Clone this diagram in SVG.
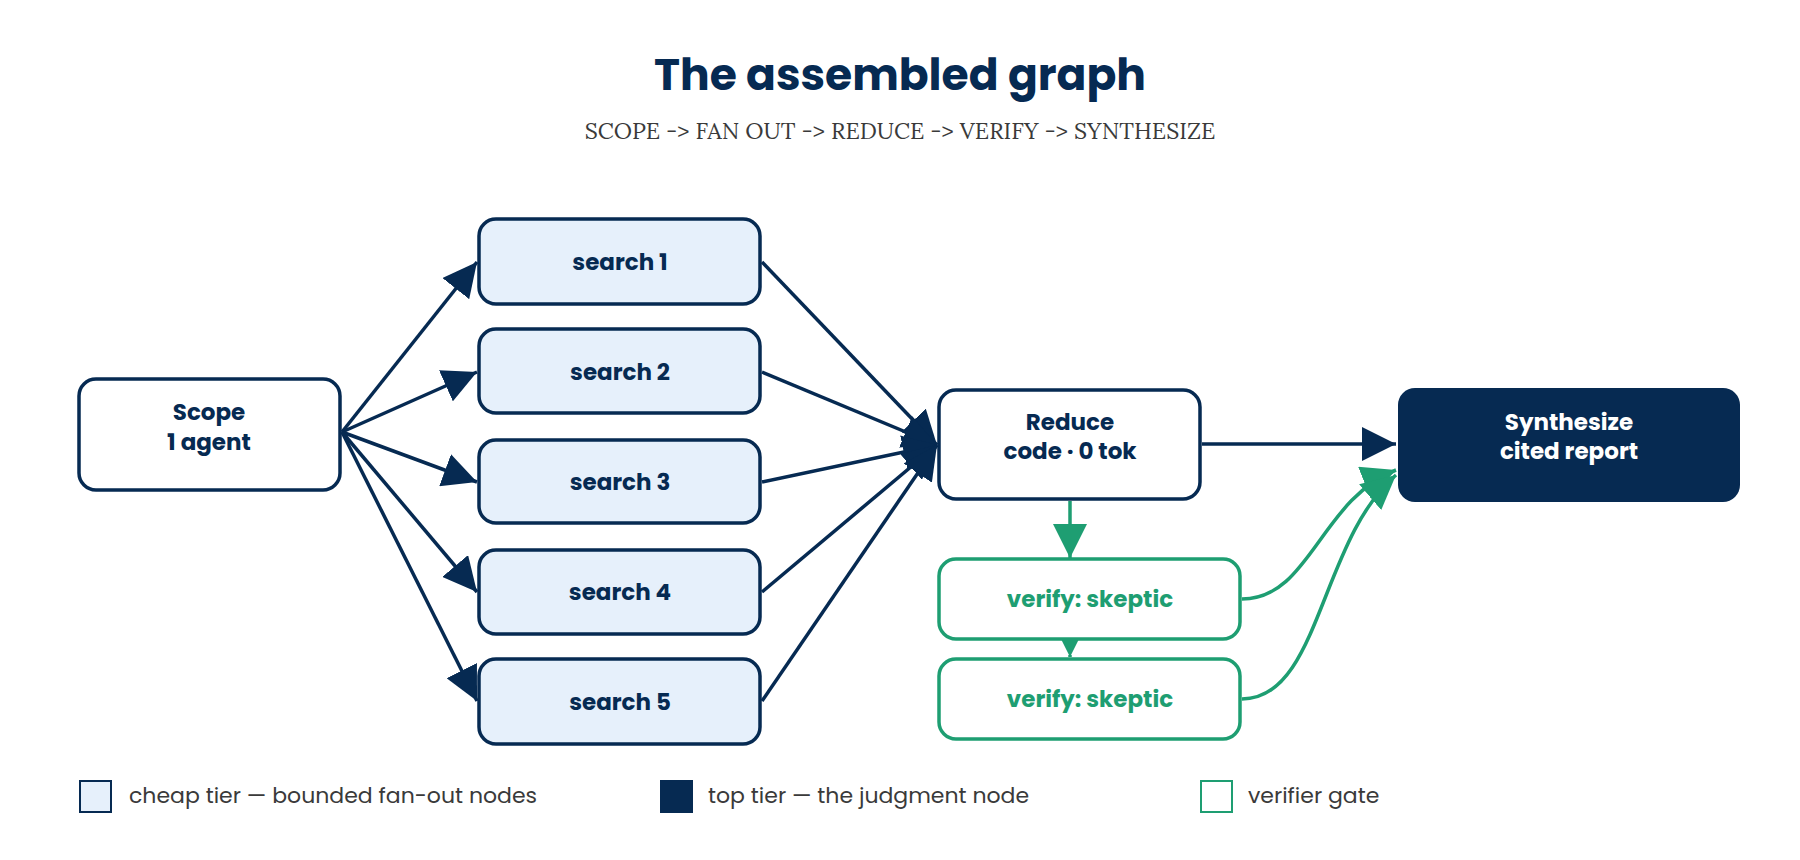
<svg xmlns="http://www.w3.org/2000/svg" width="1800" height="860" viewBox="0 0 1800 860">
<style>
.t{font-family:Poppins,"Inter","Noto Sans",sans-serif;font-weight:700;text-anchor:middle;font-size:23px}
.n{fill:#fff;stroke:#062a52;stroke-width:3.5}
.c{fill:#e6f0fb;stroke:#062a52;stroke-width:3.5}
.g{fill:#fff;stroke:#1e9e72;stroke-width:3.5}
.e{fill:none;stroke:#062a52;stroke-width:3.5}
.ge{fill:none;stroke:#1e9e72;stroke-width:3.5}
.lg{font-family:Poppins,"Inter","Noto Sans",sans-serif;font-size:22px;fill:#3a3a3a}
</style>
<defs>
<marker id="a" markerUnits="userSpaceOnUse" markerWidth="36" markerHeight="34" refX="34" refY="17" orient="auto"><path d="M0,0L34,17L0,34z" fill="#062a52"/></marker>
<marker id="ag" markerUnits="userSpaceOnUse" markerWidth="36" markerHeight="34" refX="34" refY="17" orient="auto"><path d="M0,0L34,17L0,34z" fill="#1e9e72"/></marker>
</defs>
<rect width="1800" height="860" fill="#fff"/>
<text x="900" y="90" class="t" style="font-size:44px;fill:#062a52">The assembled graph</text>
<text x="900" y="139" style="font-family:Lora,'Liberation Serif',serif;font-size:23px;fill:#3a3a3a;text-anchor:middle">SCOPE -&gt; FAN OUT -&gt; REDUCE -&gt; VERIFY -&gt; SYNTHESIZE</text>
<g id="connectors">
<path class="e" marker-end="url(#a)" d="M342,432L477,262"/>
<path class="e" marker-end="url(#a)" d="M342,432L477,372"/>
<path class="e" marker-end="url(#a)" d="M342,432L477,482"/>
<path class="e" marker-end="url(#a)" d="M342,432L477,592"/>
<path class="e" marker-end="url(#a)" d="M342,432L477,701"/>
<path class="e" marker-end="url(#a)" d="M762,262L937,445"/>
<path class="e" marker-end="url(#a)" d="M762,372L937,445"/>
<path class="e" marker-end="url(#a)" d="M762,482L937,445"/>
<path class="e" marker-end="url(#a)" d="M762,592L937,445"/>
<path class="e" marker-end="url(#a)" d="M762,701L937,445"/>
<path class="e" marker-end="url(#a)" d="M1202,444L1396,444"/>
<path class="ge" marker-end="url(#ag)" d="M1070,501L1070,558"/>
<path class="ge" marker-end="url(#ag)" stroke-dasharray="9,7" d="M1070,559L1070,657"/>
<path class="ge" marker-end="url(#ag)" d="M1242,599C1310,599 1320,500 1396,470"/>
<path class="ge" marker-end="url(#ag)" d="M1242,699C1320,699 1320,540 1396,475"/>
</g>
<g id="scope"><rect class="n" x="79" y="379" width="261" height="111" rx="17"/><text class="t" x="209" y="420" fill="#062a52">Scope</text><text class="t" x="209" y="450" fill="#062a52">1 agent</text></g>
<g id="search1"><rect class="c" x="479" y="219" width="281" height="85" rx="17"/><text class="t" x="620" y="270" fill="#062a52">search 1</text></g>
<g id="search2"><rect class="c" x="479" y="329" width="281" height="84" rx="17"/><text class="t" x="620" y="380" fill="#062a52">search 2</text></g>
<g id="search3"><rect class="c" x="479" y="440" width="281" height="83" rx="17"/><text class="t" x="620" y="490" fill="#062a52">search 3</text></g>
<g id="search4"><rect class="c" x="479" y="550" width="281" height="84" rx="17"/><text class="t" x="620" y="600" fill="#062a52">search 4</text></g>
<g id="search5"><rect class="c" x="479" y="659" width="281" height="85" rx="17"/><text class="t" x="620" y="710" fill="#062a52">search 5</text></g>
<g id="reduce"><rect class="n" x="939" y="390" width="261" height="109" rx="17"/><text class="t" x="1070" y="430" fill="#062a52">Reduce</text><text class="t" x="1070" y="459" fill="#062a52">code · 0 tok</text></g>
<g id="synthesize"><rect x="1398" y="388" width="342" height="114" rx="17" fill="#062a52"/><text class="t" x="1569" y="430" fill="#fff">Synthesize</text><text class="t" x="1569" y="459" fill="#fff">cited report</text></g>
<g id="verify1"><rect class="g" x="939" y="559" width="301" height="80" rx="17"/><text class="t" x="1090" y="607" fill="#1e9e72">verify: skeptic</text></g>
<g id="verify2"><rect class="g" x="939" y="659" width="301" height="80" rx="17"/><text class="t" x="1090" y="707" fill="#1e9e72">verify: skeptic</text></g>
<g id="legend">
<rect x="80" y="781" width="31" height="31" fill="#e6f0fb" stroke="#062a52" stroke-width="2"/><text class="lg" x="129" y="803">cheap tier — bounded fan-out nodes</text>
<rect x="660" y="780" width="33" height="33" fill="#062a52"/><text class="lg" x="708" y="803">top tier — the judgment node</text>
<rect x="1201" y="781" width="31" height="31" fill="#fff" stroke="#1e9e72" stroke-width="2"/><text class="lg" x="1248" y="803">verifier gate</text>
</g>
</svg>
